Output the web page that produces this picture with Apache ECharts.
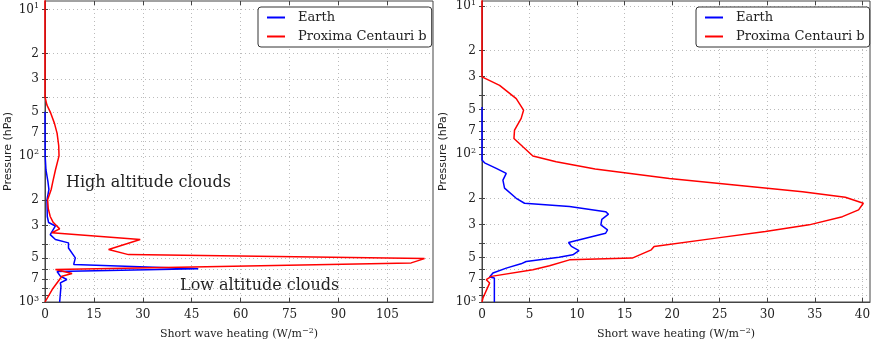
<!DOCTYPE html>
<html>
<head>
<meta charset="utf-8">
<script src="https://cdn.jsdelivr.net/npm/echarts@6/dist/echarts.min.js"></script>
<style>
  html, body { margin: 0; padding: 0; background: #fff; }
  #chart { width: 872px; height: 339px; }
</style>
</head>
<body>
<div id="chart"></div>
<script>
// --- data (pressure in hPa, heating in W/m^-2) ---
var seriesNames = ['Earth', 'Proxima Centauri b'];

// left panel (with clouds)
var leftEarthP = [50, 100, 125, 150, 170, 200, 260, 286, 302, 346, 374, 394, 427, 499, 554, 570, 593, 619, 666, 702, 739, 780, 1000];
var leftEarthW = [0, 0.05, 0.3, 0.9, 1.2, 0.6, 0.7, 1.1, 3.2, 1.6, 3.2, 7.2, 7.2, 9.3, 8.8, 8.3, 47, 3.7, 4.7, 6.7, 4.7, 4.9, 4.5];
var leftProxP = [8.5, 39.5, 45, 50, 60, 70, 85, 100, 125, 150, 170, 200, 230, 260, 285, 316, 336, 374, 438, 474, 505, 540, 600, 639, 666, 822, 1000];
var leftProxW = [0, 0, 0.6, 1.6, 2.9, 3.7, 4.2, 4.3, 3.2, 2.4, 1.9, 0.8, 1.0, 1.6, 2.5, 4.5, 2.1, 29.2, 19.5, 25.6, 116.4, 112.3, 3.2, 8.3, 5.2, 2.2, 0];

// right panel (clear sky)
var rightEarthP = [48, 109.7, 114.6, 125, 135, 150, 170, 199, 215, 226, 245, 255, 276, 301, 325, 343, 396, 421, 449, 480, 498, 532, 552, 590, 637, 678, 689, 707, 726, 1000];
var rightEarthW = [0, 0, 0.27, 1.5, 2.55, 2.2, 2.37, 3.6, 4.47, 9.2, 13.0, 13.3, 12.6, 12.5, 13.2, 13.0, 9.1, 9.4, 10.2, 9.55, 8.1, 4.65, 4.1, 2.55, 1.15, 0.8, 1.3, 1.4, 1.3, 1.3];
var rightProxP = [8.5, 30.1, 34.3, 42.2, 50.5, 57.4, 68.9, 78.4, 89.3, 103, 112.6, 126, 146, 179.5, 196, 215, 238.5, 265, 301, 334, 370, 421, 444, 505, 519, 569, 605, 671, 707, 745, 764, 939, 1000];
var rightProxW = [0, 0, 1.85, 3.6, 4.37, 4.12, 3.42, 3.36, 4.3, 5.35, 7.8, 11.9, 19.7, 33.7, 38.2, 40.1, 39.6, 37.9, 34.4, 29.8, 24.6, 18.1, 17.8, 15.8, 9.2, 7.1, 5.35, 0.98, 0.45, 0.8, 0.63, 0.1, 0];

// ticks
var leftXTicks = [0, 15, 30, 45, 60, 75, 90, 105];
var rightXTicks = [0, 5, 10, 15, 20, 25, 30, 35, 40];
var pressureLabels = [10, 20, 30, 50, 70, 100, 200, 300, 500, 700, 1000];
var pressureTicks = [10, 20, 30, 40, 50, 60, 70, 80, 90, 100, 200, 300, 400, 500, 600, 700, 800, 900, 1000];

var annotations = ['High altitude clouds', 'Low altitude clouds'];

(function() {
  var serif = 'DejaVu Serif';
  var sans = 'DejaVu Sans';
  var ink = '#222';
  var frame = '#444';
  var gridColor = '#bbb';
  var colors = ['#0000ff', '#ff0000'];

  function zip(xs, ys) {
    return xs.map(function(x, i) { return [x, ys[i]]; });
  }

  function pressureLabel(v) {
    var e = Math.round(Math.log(v) / Math.LN10);
    if (Math.abs(Math.pow(10, e) - v) < 1e-6) return '10{sup|' + e + '}';
    return String(Math.round(v / Math.pow(10, Math.floor(Math.log(v) / Math.LN10 + 1e-9))));
  }

  function xAxis(idx, max, ticks) {
    return {
      type: 'value', gridIndex: idx, min: 0, max: max,
      name: 'Short wave heating (W/m{sup|\u22122})',
      nameLocation: 'middle', nameGap: 25,
      nameTextStyle: {
        fontFamily: serif, fontSize: 11, color: ink,
        rich: { sup: { fontFamily: serif, fontSize: 8, color: ink, padding: [0, 0, 7, 0] } }
      },
      axisLine: { lineStyle: { color: frame } },
      axisTick: { inside: true, length: 4, lineStyle: { color: frame }, customValues: ticks },
      axisLabel: { customValues: ticks, fontFamily: serif, fontSize: 12, color: ink, margin: 7 },
      splitLine: { show: true, lineStyle: { color: gridColor, type: [1, 3] } }
    };
  }

  // mirror axis on the top edge: ticks only
  function xAxisTop(idx, max, ticks) {
    return {
      type: 'value', gridIndex: idx, min: 0, max: max, position: 'top',
      axisLine: { show: false },
      axisTick: { inside: true, length: 4, lineStyle: { color: frame }, customValues: ticks },
      axisLabel: { show: false },
      splitLine: { show: false }
    };
  }

  function yAxis(idx, min, gap) {
    return {
      type: 'log', logBase: 10, gridIndex: idx, inverse: true, min: min, max: 1000,
      name: 'Pressure (hPa)', nameLocation: 'middle', nameGap: gap,
      nameTextStyle: { fontFamily: sans, fontSize: 11, color: ink },
      axisLine: { lineStyle: { color: frame } },
      axisTick: { inside: true, length: 3, lineStyle: { color: frame }, customValues: pressureTicks },
      axisLabel: {
        customValues: pressureLabels, formatter: pressureLabel,
        fontFamily: serif, fontSize: 12, color: ink, margin: 6,
        rich: { sup: { fontFamily: serif, fontSize: 8, color: ink, padding: [0, 0, 7, 0] } }
      },
      splitLine: { show: true, lineStyle: { color: gridColor, type: [1, 3] } }
    };
  }

  // mirror axis on the right edge: ticks only
  function yAxisRight(idx, min) {
    return {
      type: 'log', logBase: 10, gridIndex: idx, inverse: true, min: min, max: 1000, position: 'right',
      axisLine: { show: false },
      axisTick: { inside: true, length: 3, lineStyle: { color: frame }, customValues: pressureTicks },
      axisLabel: { show: false },
      splitLine: { show: false }
    };
  }

  function legend(left) {
    return {
      data: seriesNames, left: left, top: 7, orient: 'vertical',
      icon: 'rect', itemWidth: 18, itemHeight: 2, itemGap: 4,
      padding: [3, 5, 3, 9],
      borderColor: '#333', borderWidth: 1, borderRadius: 3, backgroundColor: '#fff',
      textStyle: { fontFamily: serif, fontSize: 13, color: ink, lineHeight: 15, padding: [0, 0, 0, 8] }
    };
  }

  function line(name, idx, data, color) {
    return {
      name: name, type: 'line', xAxisIndex: idx, yAxisIndex: idx,
      data: data, symbol: 'none', showSymbol: false, clip: true,
      lineStyle: { color: color, width: 1.5 }, itemStyle: { color: color }
    };
  }

  var chart = echarts.init(document.getElementById('chart'), null, { renderer: 'canvas' });
  chart.setOption({
    animation: false,
    backgroundColor: '#fff',
    grid: [
      { left: 45, top: 1, width: 388, height: 301, show: true, borderColor: frame, borderWidth: 1, outerBoundsMode: 'none', containLabel: false },
      { left: 482, top: 1, width: 388, height: 301, show: true, borderColor: frame, borderWidth: 1, outerBoundsMode: 'none', containLabel: false }
    ],
    xAxis: [
      xAxis(0, 119, leftXTicks), xAxis(1, 40.8, rightXTicks),
      xAxisTop(0, 119, leftXTicks), xAxisTop(1, 40.8, rightXTicks)
    ],
    yAxis: [
      yAxis(0, 8.73, 31), yAxis(1, 9.23, 33),
      yAxisRight(0, 8.73), yAxisRight(1, 9.23)
    ],
    legend: [legend(258), legend(696)],
    series: [
      line(seriesNames[0], 0, zip(leftEarthW, leftEarthP), colors[0]),
      line(seriesNames[1], 0, zip(leftProxW, leftProxP), colors[1]),
      line(seriesNames[0], 1, zip(rightEarthW, rightEarthP), colors[0]),
      line(seriesNames[1], 1, zip(rightProxW, rightProxP), colors[1])
    ],
    graphic: [
      { type: 'text', left: 66, top: 175, style: { text: annotations[0], font: '16px "DejaVu Serif"', fill: ink } },
      { type: 'text', left: 180, top: 278, style: { text: annotations[1], font: '16px "DejaVu Serif"', fill: ink } }
    ]
  });

  window.addEventListener('resize', function() { chart.resize(); });
})();
</script>
</body>
</html>
